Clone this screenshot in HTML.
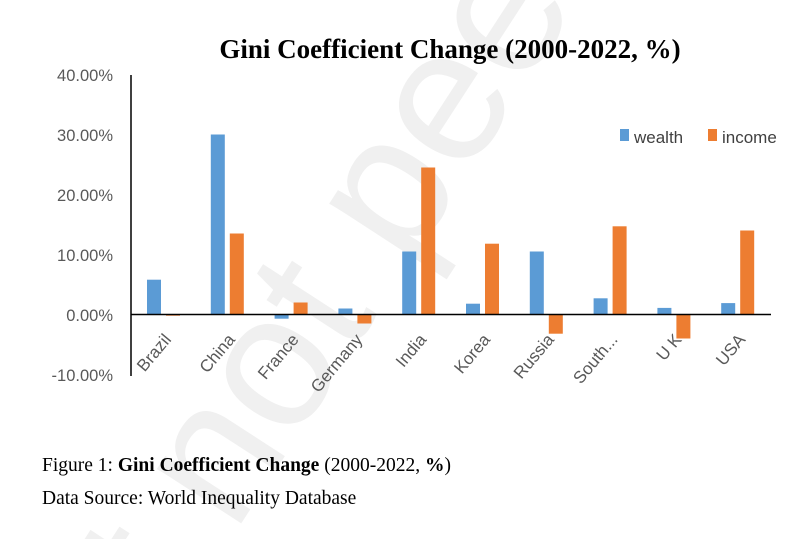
<!DOCTYPE html>
<html><head><meta charset="utf-8"><style>
html,body{margin:0;background:#fff;width:800px;height:539px;overflow:hidden;}
svg{display:block;}
</style></head><body>
<svg width="800" height="539" xmlns="http://www.w3.org/2000/svg" style="overflow:hidden">
<rect width="800" height="539" fill="#fff"/>
<text x="370" y="300" transform="rotate(-57 370 270)" text-anchor="middle" font-family="Liberation Sans, sans-serif" font-size="190" fill="#f0f0f0">t not peer</text>
<text x="450" y="58" text-anchor="middle" font-family="Liberation Serif, serif" font-weight="bold" font-size="27" fill="#000">Gini Coefficient Change (2000-2022, %)</text>
<g font-family="Liberation Sans, sans-serif" font-size="16.5" fill="#595959" text-anchor="end">
<text x="113" y="81">40.00%</text>
<text x="113" y="141">30.00%</text>
<text x="113" y="201">20.00%</text>
<text x="113" y="261">10.00%</text>
<text x="113" y="321">0.00%</text>
<text x="113" y="381">-10.00%</text>
</g>
<line x1="131" y1="75" x2="131" y2="376" stroke="#000" stroke-width="1.5"/>
<g id="bars"></g>
<line x1="131" y1="314.5" x2="771" y2="314.5" stroke="#000" stroke-width="1.5"/>
<g font-family="Liberation Sans, sans-serif" font-size="17" fill="#595959" id="labels"></g>
<rect x="620" y="129" width="9" height="12" fill="#5b9bd5"/>
<text x="634" y="143" font-family="Liberation Sans, sans-serif" font-size="17" fill="#404040">wealth</text>
<rect x="708" y="129" width="9" height="12" fill="#ed7d31"/>
<text x="722" y="143" font-family="Liberation Sans, sans-serif" font-size="17" fill="#404040">income</text>
<text x="42" y="471" font-family="Liberation Serif, serif" font-size="19.5" fill="#000">Figure 1: <tspan font-weight="bold">Gini Coefficient Change</tspan> (2000-2022, <tspan font-weight="bold">%</tspan>)</text>
<text x="42" y="504" font-family="Liberation Serif, serif" font-size="19.5" fill="#000">Data Source: World Inequality Database</text>
<script>
var d=[["Brazil",5.8,-0.2],["China",30,13.5],["France",-0.7,2.0],["Germany",1.0,-1.5],["India",10.5,24.5],["Korea",1.8,11.8],["Russia",10.5,-3.2],["South...",2.7,14.7],["U K",1.1,-4],["USA",1.9,14]];
var ns="http://www.w3.org/2000/svg",b=document.getElementById("bars"),l=document.getElementById("labels");
function r(x,v,c){var e=document.createElementNS(ns,"rect");var y0=314.5,h=v*6;e.setAttribute("x",x);e.setAttribute("width",14);e.setAttribute("y",h>=0?y0-h:y0);e.setAttribute("height",Math.abs(h));e.setAttribute("fill",c);b.appendChild(e);}
d.forEach(function(a,i){var x0=132+i*63.8;r(x0+15,a[1],"#5b9bd5");r(x0+34,a[2],"#ed7d31");
var t=document.createElementNS(ns,"text");var cx=x0+40,cy=340;t.setAttribute("x",cx);t.setAttribute("y",cy);t.setAttribute("text-anchor","end");t.setAttribute("transform","rotate(-50 "+cx+" "+cy+")");t.textContent=a[0];l.appendChild(t);});
</script>
</svg>
</body></html>
